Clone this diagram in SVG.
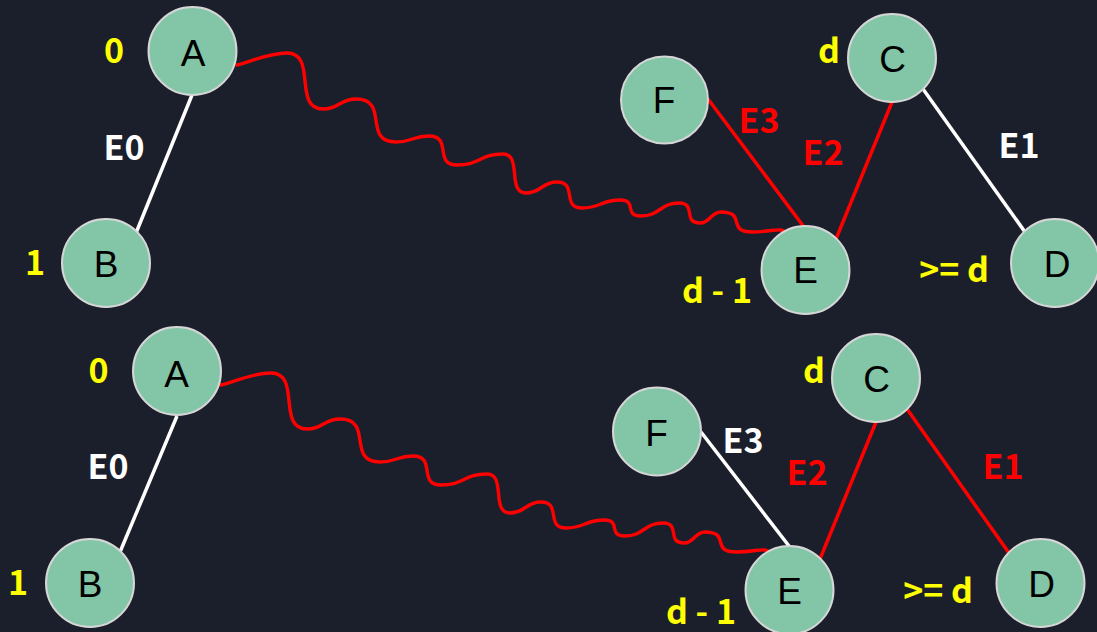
<svg xmlns="http://www.w3.org/2000/svg" width="1097" height="632" viewBox="0 0 1097 632">
  <defs>
    <style>
      .node circle { fill: #83c6a7; stroke: #d6d6d6; stroke-width: 2; }
      .nm { font-family: "Liberation Sans", Arial, sans-serif; font-size: 37px; fill: #000; text-anchor: middle; }
      .lbl { font-family: "Noto Sans CJK SC", "Noto Sans", sans-serif; font-weight: bold; font-size: 34px; text-anchor: middle; }
      .yel { fill: #ffff00; }
      .wht { fill: #ffffff; }
      .red { fill: #ff0000; }
      .edge { fill: none; stroke-width: 3.5; stroke-linecap: butt; }
      .edge.w { stroke: #ffffff; }
      .edge.r { stroke: #ff0000; }
      .wave { fill: none; stroke: #ff0000; stroke-width: 3.4; stroke-linecap: round; stroke-linejoin: round; }
    </style>
    <!-- wavy path from A to E (upper graph coordinates) -->
    <path id="wavy" d="M237,65 C255,60 270,53 287,53 C317.6,53 292.4,109 323,109 C339.5,109 339.5,99 356,99 C390,99 362,142 396,142 C412.5,142 412.5,136 429,136 C452.8,136 433.2,165 457,165 C480,165 480,154 503,154 C522.5,154 506.5,193 526,193 C541.5,193 541.5,182 557,182 C578,182 561,208 582,208 C601,208 601,200 620,200 C638,200 623,216 641,216 C660,216 660,203 679,203 C697,203 682,223 700,223 C710.5,223 710.5,212 721,212 C747,212 726,232 752,232 C768,232 776,229 781,230 C785,231 787,233 787,236"/>
  </defs>

  <rect width="1097" height="632" fill="#1b1f2b"/>

  <!-- connectors -->
  <g id="connectors">
    <!-- upper graph -->
    <line class="edge w" x1="192" y1="95" x2="136" y2="233"/>
    <line class="edge r" x1="708" y1="99" x2="804" y2="227"/>
    <line class="edge r" x1="892" y1="102" x2="836" y2="239"/>
    <line class="edge w" x1="923" y1="89" x2="1025" y2="232"/>
    <use href="#wavy" class="wave"/>
    <!-- lower graph -->
    <line class="edge w" x1="177" y1="416" x2="120" y2="552"/>
    <line class="edge w" x1="701" y1="432" x2="789" y2="546"/>
    <line class="edge r" x1="876" y1="422" x2="820" y2="559"/>
    <line class="edge r" x1="907" y1="409" x2="1009" y2="553"/>
    <use href="#wavy" class="wave" transform="translate(-16,320)"/>
  </g>

  <!-- edge labels -->
  <g id="edge-labels">
    <text class="lbl wht" x="124" y="160">E0</text>
    <text class="lbl red" x="759" y="133">E3</text>
    <text class="lbl red" x="823" y="165">E2</text>
    <text class="lbl wht" x="1019" y="158">E1</text>

    <text class="lbl wht" x="108" y="479">E0</text>
    <text class="lbl wht" x="743" y="453">E3</text>
    <text class="lbl red" x="807" y="485">E2</text>
    <text class="lbl red" x="1003" y="479">E1</text>
  </g>

  <!-- upper graph nodes -->
  <g id="node-A1" class="node">
    <circle cx="192.5" cy="51" r="44"/>
    <text class="nm" x="193" y="66">A</text>
    <text class="lbl yel" x="114" y="63">0</text>
  </g>
  <g id="node-B1" class="node">
    <circle cx="106" cy="263" r="44"/>
    <text class="nm" x="106" y="277">B</text>
    <text class="lbl yel" x="35" y="275">1</text>
  </g>
  <g id="node-C1" class="node">
    <circle cx="892" cy="58" r="44"/>
    <text class="nm" x="892.5" y="72">C</text>
    <text class="lbl yel" x="829" y="63">d</text>
  </g>
  <g id="node-F1" class="node">
    <circle cx="664.5" cy="100" r="43.5"/>
    <text class="nm" x="664" y="113">F</text>
  </g>
  <g id="node-E1" class="node">
    <circle cx="805.5" cy="270" r="44"/>
    <text class="nm" x="805.5" y="283">E</text>
    <text class="lbl yel" x="717" y="303">d - 1</text>
  </g>
  <g id="node-D1" class="node">
    <circle cx="1055" cy="263" r="44"/>
    <text class="nm" x="1057" y="277">D</text>
    <text class="lbl yel" x="954" y="282">&gt;= d</text>
  </g>

  <!-- lower graph nodes -->
  <g id="node-A2" class="node">
    <circle cx="177" cy="371" r="44"/>
    <text class="nm" x="176.5" y="387">A</text>
    <text class="lbl yel" x="98.5" y="383">0</text>
  </g>
  <g id="node-B2" class="node">
    <circle cx="90" cy="583" r="44"/>
    <text class="nm" x="90" y="597">B</text>
    <text class="lbl yel" x="18" y="595">1</text>
  </g>
  <g id="node-C2" class="node">
    <circle cx="876" cy="378" r="44"/>
    <text class="nm" x="876.5" y="392">C</text>
    <text class="lbl yel" x="814" y="383">d</text>
  </g>
  <g id="node-F2" class="node">
    <circle cx="657" cy="431.5" r="44"/>
    <text class="nm" x="656.5" y="446">F</text>
  </g>
  <g id="node-E2" class="node">
    <circle cx="789.5" cy="590" r="44"/>
    <text class="nm" x="789.5" y="604">E</text>
    <text class="lbl yel" x="701" y="624">d - 1</text>
  </g>
  <g id="node-D2" class="node">
    <circle cx="1040.5" cy="583" r="44"/>
    <text class="nm" x="1041.5" y="597">D</text>
    <text class="lbl yel" x="938" y="603">&gt;= d</text>
  </g>
</svg>
